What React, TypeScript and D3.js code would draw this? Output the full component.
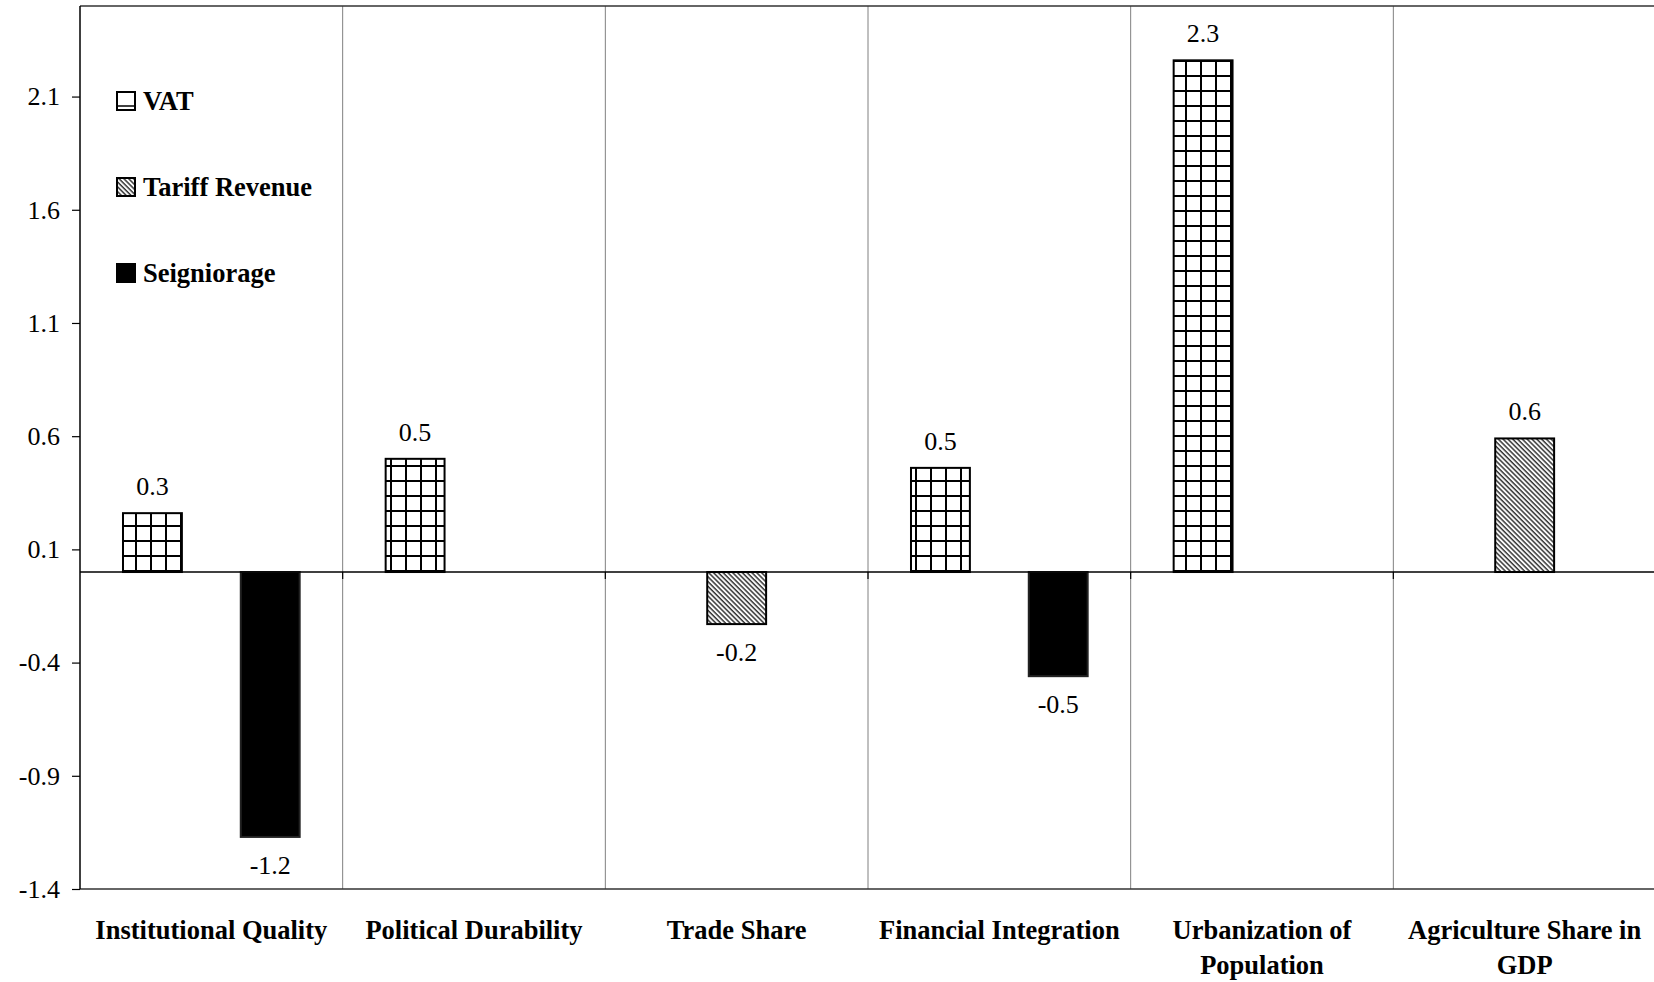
import React, { useEffect, useRef } from 'react'
import * as d3 from 'd3'

const categories = [
  'Institutional Quality',
  'Political Durability',
  'Trade Share',
  'Financial Integration',
  'Urbanization of Population',
  'Agriculture Share in GDP'
]
const categoryLines = [
  ['Institutional Quality'],
  ['Political Durability'],
  ['Trade Share'],
  ['Financial Integration'],
  ['Urbanization of', 'Population'],
  ['Agriculture Share in', 'GDP']
]
const seriesNames = ['VAT', 'Tariff Revenue', 'Seigniorage']
const vatValues = [0.26, 0.5, null, 0.46, 2.26, null]
const tariffValues = [null, null, -0.23, null, null, 0.59]
const seigniorageValues = [-1.17, null, null, -0.46, null, null]
const yTicks = [-1.4, -0.9, -0.4, 0.1, 0.6, 1.1, 1.6, 2.1]

const FONT = '"Liberation Serif", "Times New Roman", serif'

export default function App() {
  const ref = useRef<SVGSVGElement | null>(null)

  useEffect(() => {
    if (!ref.current) {
      return
    }
    const width = 1654
    const height = 982
    const margin = { top: 6, right: -2, bottom: 93, left: 80 }
    const svg = d3.select(ref.current)
    svg.selectAll('*').remove()

    const defs = svg.append('defs')
    const grid = defs
      .append('pattern')
      .attr('id', 'grid')
      .attr('patternUnits', 'userSpaceOnUse')
      .attr('width', 15)
      .attr('height', 15)
    grid.append('rect').attr('width', 15).attr('height', 15).attr('fill', '#fff')
    grid.append('line').attr('x1', 1).attr('x2', 1).attr('y1', 0).attr('y2', 15).attr('stroke', '#000').attr('stroke-width', 2)
    grid.append('line').attr('x1', 0).attr('x2', 15).attr('y1', 1).attr('y2', 1).attr('stroke', '#000').attr('stroke-width', 2)

    const hatch = defs
      .append('pattern')
      .attr('id', 'hatch')
      .attr('patternUnits', 'userSpaceOnUse')
      .attr('width', 3.4)
      .attr('height', 10)
      .attr('patternTransform', 'rotate(-45)')
    hatch.append('rect').attr('width', 3.4).attr('height', 10).attr('fill', '#fff')
    hatch.append('line').attr('x1', 1).attr('x2', 1).attr('y1', 0).attr('y2', 10).attr('stroke', '#333').attr('stroke-width', 1.5)

    const fills = ['url(#grid)', 'url(#hatch)', '#000']
    const seriesValues = [vatValues, tariffValues, seigniorageValues]

    const x0 = d3
      .scaleBand()
      .domain(categories)
      .range([margin.left, width - margin.right])
      .padding(0)
    const x1 = d3
      .scaleBand()
      .domain(seriesNames)
      .range([0, x0.bandwidth()])
      .paddingInner(0)
      .paddingOuter(0.73)
    const y = d3.scaleLinear().domain([-1.4, 2.5]).range([height - margin.bottom, margin.top])

    const plotTop = margin.top
    const plotBottom = height - margin.bottom
    const zero = y(0)

    // category separators
    svg
      .selectAll('line.sep')
      .data(categories)
      .enter()
      .append('line')
      .attr('class', 'sep')
      .attr('x1', (d) => (x0(d) ?? 0) + x0.bandwidth())
      .attr('x2', (d) => (x0(d) ?? 0) + x0.bandwidth())
      .attr('y1', plotTop)
      .attr('y2', plotBottom)
      .attr('stroke', '#808080')
      .attr('stroke-width', 1)

    // frame top and bottom
    svg.append('line').attr('x1', margin.left).attr('x2', width).attr('y1', plotTop).attr('y2', plotTop).attr('stroke', '#333').attr('stroke-width', 1.5)
    svg.append('line').attr('x1', margin.left).attr('x2', width).attr('y1', plotBottom).attr('y2', plotBottom).attr('stroke', '#333').attr('stroke-width', 1.5)

    // y axis
    const yAxis = svg
      .append('g')
      .attr('transform', `translate(${margin.left},0)`)
      .call(
        d3
          .axisLeft(y)
          .tickValues(yTicks)
          .tickSize(8)
          .tickPadding(12)
          .tickFormat((d) => (d as number).toFixed(1))
      )
    yAxis.select('.domain').attr('d', `M0,${plotTop}V${plotBottom}`).attr('stroke', '#000').attr('stroke-width', 1.5)
    yAxis.selectAll('.tick line').attr('stroke', '#000').attr('stroke-width', 1.2)
    yAxis.selectAll('.tick text').attr('font-family', FONT).attr('font-size', 26).attr('fill', '#000')

    // bars
    seriesNames.forEach((name, si) => {
      const rows = seriesValues[si]
        .map((v, i) => ({ cat: categories[i], value: v }))
        .filter((r) => r.value !== null) as { cat: string; value: number }[]
      svg
        .selectAll(`rect.s${si}`)
        .data(rows)
        .enter()
        .append('rect')
        .attr('class', `s${si}`)
        .attr('x', (d) => (x0(d.cat) ?? 0) + (x1(name) ?? 0))
        .attr('y', (d) => Math.min(y(d.value), zero))
        .attr('width', x1.bandwidth())
        .attr('height', (d) => Math.abs(y(d.value) - zero))
        .attr('fill', fills[si])
        .attr('stroke', si === 2 ? '#222' : '#000')
        .attr('stroke-width', 2)

      svg
        .selectAll(`text.l${si}`)
        .data(rows)
        .enter()
        .append('text')
        .attr('class', `l${si}`)
        .attr('x', (d) => (x0(d.cat) ?? 0) + (x1(name) ?? 0) + x1.bandwidth() / 2)
        .attr('y', (d) => (d.value >= 0 ? y(d.value) - 18 : y(d.value) + 37))
        .attr('text-anchor', 'middle')
        .attr('font-family', FONT)
        .attr('font-size', 26)
        .attr('fill', '#000')
        .text((d) => d.value.toFixed(1))
    })

    // zero line with category ticks
    svg.append('line').attr('x1', margin.left).attr('x2', width).attr('y1', zero).attr('y2', zero).attr('stroke', '#000').attr('stroke-width', 1.5)
    svg
      .selectAll('line.ztick')
      .data(categories)
      .enter()
      .append('line')
      .attr('class', 'ztick')
      .attr('x1', (d) => (x0(d) ?? 0) + x0.bandwidth())
      .attr('x2', (d) => (x0(d) ?? 0) + x0.bandwidth())
      .attr('y1', zero)
      .attr('y2', zero + 7)
      .attr('stroke', '#000')
      .attr('stroke-width', 1.2)

    // category labels
    const catLabels = svg
      .selectAll('text.cat')
      .data(categories)
      .enter()
      .append('text')
      .attr('class', 'cat')
      .attr('x', (d) => (x0(d) ?? 0) + x0.bandwidth() / 2)
      .attr('y', 939)
      .attr('text-anchor', 'middle')
      .attr('font-family', FONT)
      .attr('font-size', 26.5)
      .attr('font-weight', 'bold')
      .attr('fill', '#000')
    catLabels.each(function (d, i) {
      const t = d3.select(this)
      categoryLines[i].forEach((line, li) => {
        t.append('tspan')
          .attr('x', (x0(d) ?? 0) + x0.bandwidth() / 2)
          .attr('dy', li === 0 ? 0 : 35)
          .text(line)
      })
    })

    // legend
    const legend = svg.append('g').attr('transform', 'translate(117, 92)')
    seriesNames.forEach((name, i) => {
      const g = legend.append('g').attr('transform', `translate(0, ${i * 86})`)
      if (i === 0) {
        g.append('rect').attr('width', 18).attr('height', 18).attr('fill', '#fff').attr('stroke', '#000').attr('stroke-width', 2)
        g.append('line').attr('x1', 0).attr('x2', 18).attr('y1', 14).attr('y2', 14).attr('stroke', '#000').attr('stroke-width', 1.5)
      } else {
        g.append('rect').attr('width', 18).attr('height', 18).attr('fill', fills[i]).attr('stroke', '#000').attr('stroke-width', 2)
      }
      g.append('text')
        .attr('x', 26)
        .attr('y', 18)
        .attr('font-family', FONT)
        .attr('font-size', 26.5)
        .attr('font-weight', 'bold')
        .attr('fill', '#000')
        .text(name)
    })
  }, [])

  return (
    <svg
      ref={ref}
      width={1654}
      height={982}
      style={{ position: 'absolute', left: 0, top: 0, background: '#fff' }}
    />
  )
}
